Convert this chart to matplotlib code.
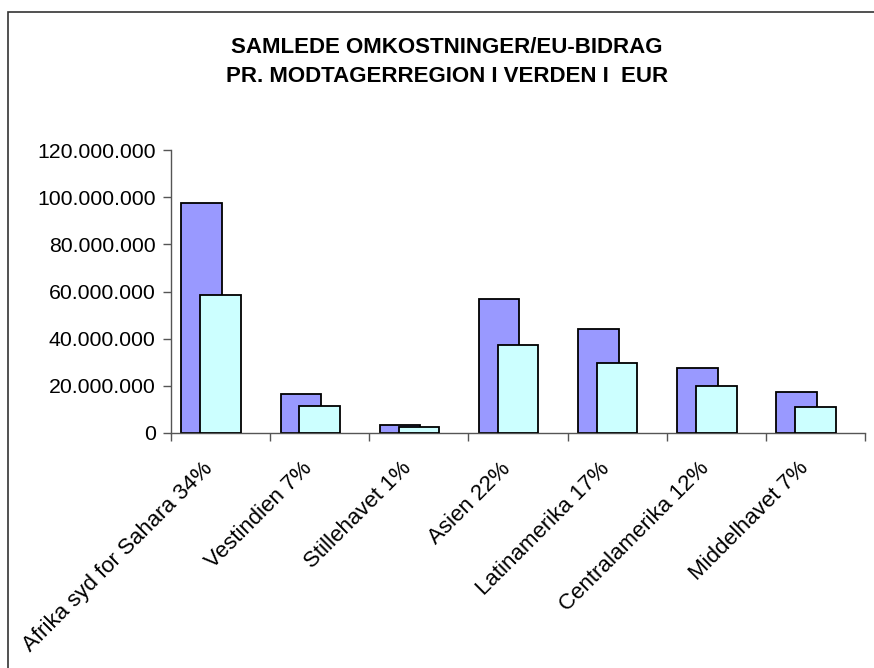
import matplotlib
matplotlib.use('Agg')
import matplotlib.pyplot as plt
import matplotlib.transforms as mtransforms
from matplotlib.patches import Rectangle
from matplotlib.ticker import FuncFormatter
import numpy as np

# data (EUR)
regions = ['Afrika syd for Sahara 34%', 'Vestindien 7%', 'Stillehavet 1%', 'Asien 22%',
           'Latinamerika 17%', 'Centralamerika 12%', 'Middelhavet 7%']
samlede = [97.6e6, 16.5e6, 3.3e6, 56.7e6, 44.0e6, 27.7e6, 17.5e6]
eu_bidrag = [58.4e6, 11.6e6, 2.5e6, 37.2e6, 29.5e6, 19.9e6, 10.9e6]
title = 'SAMLEDE OMKOSTNINGER/EU-BIDRAG\nPR. MODTAGERREGION I VERDEN I  EUR'

plt.rcParams['font.family'] = ['Liberation Sans', 'DejaVu Sans']

W, H = 874, 668
fig = plt.figure(figsize=(W / 100, H / 100), dpi=100)
ax = fig.add_axes([171 / W, 1 - 433 / H, (865 - 171) / W, (433 - 150) / H])

x = np.arange(len(regions))
bw = 0.41
ax.bar(x - 0.19, samlede, width=bw, color='#9999FF', edgecolor='black', linewidth=1.3, zorder=2)
ax.bar(x + 0.0, eu_bidrag, width=bw, color='#CCFFFF', edgecolor='black', linewidth=1.3, zorder=3)

ax.set_xlim(-0.5, len(regions) - 0.5)
ax.set_ylim(0, 120e6)
ax.set_yticks(np.arange(0, 120e6 + 1, 20e6))
ax.yaxis.set_major_formatter(FuncFormatter(lambda v, p: f'{int(v):,}'.replace(',', '.')))
ax.set_xticks(np.arange(-0.5, len(regions)))
ax.set_xticklabels([])

for s in ['top', 'right']:
    ax.spines[s].set_visible(False)
for s in ['left', 'bottom']:
    ax.spines[s].set_color('#555555')
    ax.spines[s].set_linewidth(1.0)
ax.tick_params(axis='both', colors='#555555', length=6, width=1.0, direction='out')
ax.tick_params(axis='y', labelsize=15.3, labelcolor='black', pad=5)

# rotated category labels
off = mtransforms.ScaledTranslation(-18 / 100, -25 / 100, fig.dpi_scale_trans)
for i, lab in enumerate(regions):
    ax.text(i, 0, lab, transform=ax.get_xaxis_transform() + off, rotation=45,
            rotation_mode='anchor', ha='right', va='top', fontsize=16)

fig.text(447 / W, 1 - 62 / H, title, ha='center', va='center', fontsize=16,
         fontweight='bold', linespacing=1.45)

fig.add_artist(Rectangle((8 / W, -0.1), 1.2, 1 - 12 / H + 0.1, transform=fig.transFigure,
                         fill=False, edgecolor='#333333', linewidth=1.2))

fig.savefig('out.png', dpi=100)
